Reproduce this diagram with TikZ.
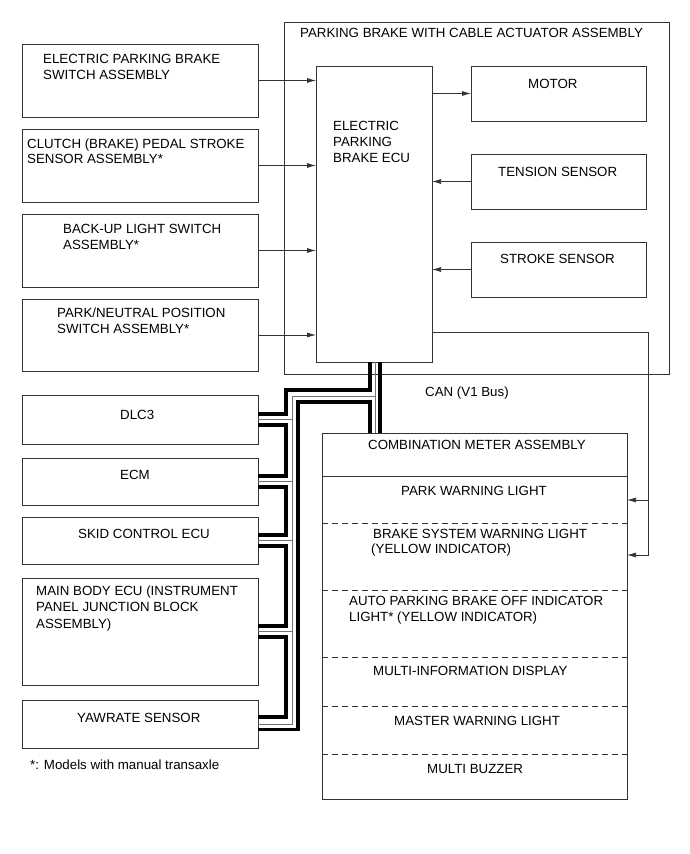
\documentclass[tikz,border=0pt]{standalone}
\usepackage{fontspec}
\setmainfont{Liberation Sans}
\usetikzlibrary{arrows.meta,calc}
\begin{document}
\begin{tikzpicture}[x=1pt,y=-1pt,
  box/.style={draw=black!80,line width=0.8pt,rectangle,anchor=north west,inner sep=0pt,outer sep=0pt},
  lbl/.style={anchor=base west,inner sep=0pt,font=\fontsize{13.3}{16}\selectfont},
  conn/.style={draw=black!80,line width=0.75pt},
  arr/.style={conn,-{Latex[length=9pt,width=5pt]}},
  sep/.style={draw=black!80,line width=0.8pt},
  dsep/.style={sep,dash pattern=on 6pt off 4pt},
  busthick/.style={draw=black,line width=3.8pt,line cap=butt,line join=miter},
  busthin/.style={draw=black!55,line width=0.9pt}]
\useasboundingbox (0,0) rectangle (690,854);

% input boxes
\node[box,minimum width=236pt,minimum height=73pt] (b1) at (22,44) {};
\node[box,minimum width=236pt,minimum height=73pt] (b2) at (22,129) {};
\node[box,minimum width=236pt,minimum height=73pt] (b3) at (22,214) {};
\node[box,minimum width=236pt,minimum height=72pt] (b4) at (22,299) {};
\node[lbl] (t1a) at (43,63.5) {ELECTRIC PARKING BRAKE};
\node[lbl] (t1b) at (43,79.5) {SWITCH ASSEMBLY};
\node[lbl] (t2a) at (27,148) {CLUTCH (BRAKE) PEDAL STROKE};
\node[lbl] (t2b) at (27,163.5) {SENSOR ASSEMBLY*};
\node[lbl] (t3a) at (63,233.5) {BACK-UP LIGHT SWITCH};
\node[lbl] (t3b) at (63,249) {ASSEMBLY*};
\node[lbl] (t4a) at (57,317.5) {PARK/NEUTRAL POSITION};
\node[lbl] (t4b) at (57,333) {SWITCH ASSEMBLY*};

% assembly
\node[box,minimum width=385pt,minimum height=352pt] (asm) at (284,22) {};
\node[lbl] (asmt) at (300,37) {PARKING BRAKE WITH CABLE ACTUATOR ASSEMBLY};
\node[box,minimum width=116pt,minimum height=296pt] (ecu) at (316,66) {};
\node[lbl] (ecua) at (333,130) {ELECTRIC};
\node[lbl] (ecub) at (333,146) {PARKING};
\node[lbl] (ecuc) at (333,162) {BRAKE ECU};
\node[box,minimum width=175pt,minimum height=55pt] (motor) at (471,66) {};
\node[box,minimum width=175pt,minimum height=55pt] (tens) at (471,154) {};
\node[box,minimum width=175pt,minimum height=55pt] (strk) at (471,242) {};
\node[lbl] (tm) at (528,88) {MOTOR};
\node[lbl] (tt) at (498,176) {TENSION SENSOR};
\node[lbl] (ts) at (500,263) {STROKE SENSOR};

\draw[arr] (b1.east) -- (ecu.west |- b1.east);
\draw[arr] (b2.east) -- (ecu.west |- b2.east);
\draw[arr] (b3.east) -- (ecu.west |- b3.east);
\draw[arr] (b4.east) -- (ecu.west |- b4.east);
\draw[arr] (ecu.east |- motor.west) -- (motor.west);
\draw[arr] (tens.west) -- (ecu.east |- tens.west);
\draw[arr] (strk.west) -- (ecu.east |- strk.west);

% CAN bus devices
\node[box,minimum width=236pt,minimum height=49pt] (dlc) at (22,395) {};
\node[box,minimum width=236pt,minimum height=47pt] (ecm) at (22,458) {};
\node[box,minimum width=236pt,minimum height=47pt] (skid) at (22,517) {};
\node[box,minimum width=236pt,minimum height=107pt] (mb) at (22,578) {};
\node[box,minimum width=236pt,minimum height=48pt] (yaw) at (22,700) {};
\node[lbl] (tdlc) at (120,419) {DLC3};
\node[lbl] (tecm) at (120,479) {ECM};
\node[lbl] (tskid) at (78,538) {SKID CONTROL ECU};
\node[lbl] (tmba) at (36,595) {MAIN BODY ECU (INSTRUMENT};
\node[lbl] (tmbb) at (36,611.5) {PANEL JUNCTION BLOCK};
\node[lbl] (tmbc) at (36,628) {ASSEMBLY)};
\node[lbl] (tyaw) at (77,722) {YAWRATE SENSOR};
\node[lbl] (foot) at (30,769) {*: Models with manual transaxle};
\node[lbl] (can) at (425,396) {CAN (V1 Bus)};

% combination meter
\node[box,minimum width=305pt,minimum height=366pt] (meter) at (322,433) {};
\draw[sep] (meter.west |- 0,476) -- (meter.east |- 0,476);
\draw[dsep] (meter.west |- 0,523) -- (meter.east |- 0,523);
\draw[dsep] (meter.west |- 0,590) -- (meter.east |- 0,590);
\draw[dsep] (meter.west |- 0,657) -- (meter.east |- 0,657);
\draw[dsep] (meter.west |- 0,706) -- (meter.east |- 0,706);
\draw[dsep] (meter.west |- 0,754) -- (meter.east |- 0,754);
\node[lbl] (m0) at (368,449) {COMBINATION METER ASSEMBLY};
\node[lbl] (m1) at (401,495) {PARK WARNING LIGHT};
\node[lbl] (m2a) at (373,538) {BRAKE SYSTEM WARNING LIGHT};
\node[lbl] (m2b) at (371,553) {(YELLOW INDICATOR)};
\node[lbl] (m3a) at (349,605) {AUTO PARKING BRAKE OFF INDICATOR};
\node[lbl] (m3b) at (349,621) {LIGHT* (YELLOW INDICATOR)};
\node[lbl] (m4) at (373,675) {MULTI-INFORMATION DISPLAY};
\node[lbl] (m5) at (394,725) {MASTER WARNING LIGHT};
\node[lbl] (m6) at (427,773) {MULTI BUZZER};

% ECU -> meter warning lights
\coordinate (fbc) at (648,332);
\draw[arr] (ecu.east |- fbc) -| (648,555) -- (meter.east |- 0,555);
\draw[arr] (648,500) -- (meter.east |- 0,500);

% CAN bus: thin common line
\draw[busthin] (ecu.south -| 375,0) -- (meter.north -| 375,0);
\draw[busthin] (375,396) -| (292,724) -- (yaw.east);
\foreach \n in {dlc,ecm,skid,mb} \draw[busthin] (\n.east) -- (\n.east -| 292,0);
% CAN bus: direct thick line ECU -> meter
\draw[busthick] (ecu.south -| 380,0) -- (meter.north -| 380,0);
% CAN bus: chain through the devices
\draw[busthick] (ecu.south -| 370,0) |- (286,390) |- ([yshift=5.5pt]dlc.east);
\draw[busthick] ([yshift=-5.5pt]dlc.east) -- ++(28,0) |- ([yshift=5.5pt]ecm.east);
\draw[busthick] ([yshift=-5.5pt]ecm.east) -- ++(28,0) |- ([yshift=5.5pt]skid.east);
\draw[busthick] ([yshift=-5.5pt]skid.east) -- ++(28,0) |- ([yshift=5.5pt]mb.east);
\draw[busthick] ([yshift=-5.5pt]mb.east) -- ++(28,0) |- ([yshift=7pt]yaw.east);
\draw[busthick] (meter.north -| 370,0) |- (298,402) |- ([yshift=-5.5pt]yaw.east);
\end{tikzpicture}
\end{document}
